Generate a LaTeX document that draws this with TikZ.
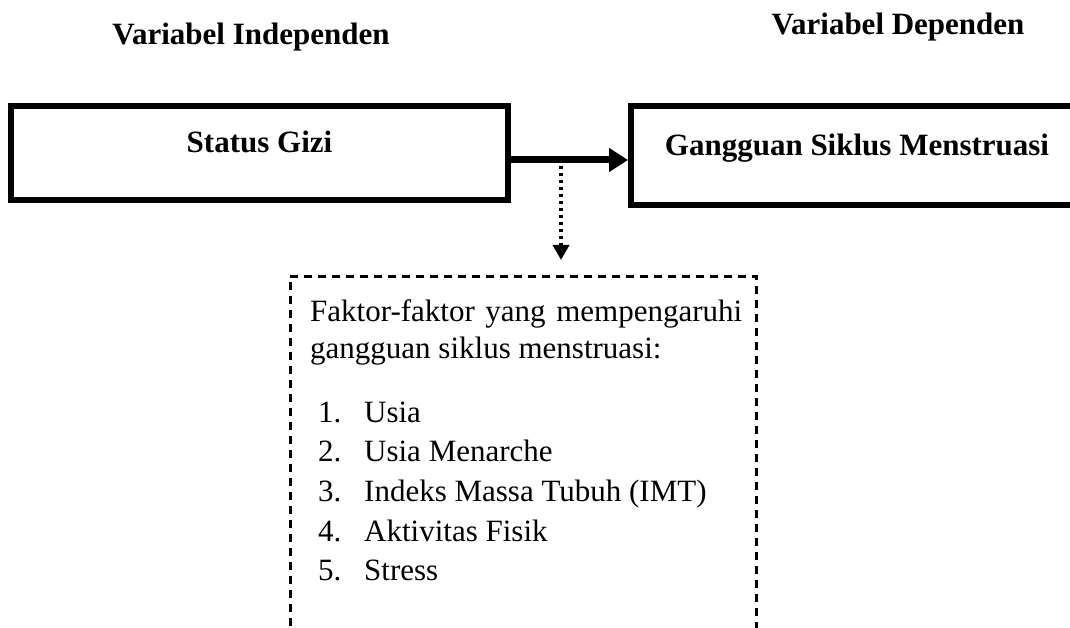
\documentclass[tikz,border=0pt]{standalone}
\usepackage{fontspec}
\setmainfont{Liberation Serif}
\usetikzlibrary{arrows.meta}

\begin{document}
\begin{tikzpicture}[x=1pt,y=-1pt]
\tikzstyle{every node}+=[inner sep=0pt, font=\fontsize{31}{37}\selectfont]
\tikzstyle{varbox}=[draw=black, line width=6pt, text height=12pt, text depth=12pt, font=\fontsize{31}{37}\selectfont\bfseries]
\tikzstyle{title}=[anchor=base, font=\fontsize{31}{37}\selectfont\bfseries]
\tikzstyle{item}=[anchor=base west]
\clip (0,0) rectangle (1070,628);
%titles
\node[title] (indep) at (251,45) {Variabel Independen};
\node[title] (dep) at (898,35) {Variabel Dependen};
%variable boxes
\node[varbox, minimum width=497pt, minimum height=94pt] (gizi) at (259.5,153) {Status Gizi};
\node[varbox, minimum width=452pt, minimum height=99pt] (siklus) at (857,155.5) {Gangguan Siklus Menstruasi};
\draw[line width=7pt, -{Triangle[length=19pt,width=23pt]}] ([yshift=-7pt]gizi.east) -- ([yshift=-4.5pt]siklus.west);
%factor box
\node[draw=black, line width=2.7pt, dash pattern=on 8pt off 6pt, minimum width=466pt, minimum height=420pt, anchor=north west] (factor) at (289,275) {};
\coordinate (split) at (561,166);
\draw[line width=3.5pt, dash pattern=on 3.5pt off 3.5pt, shorten >=15pt, -{Triangle[length=15pt,width=16pt]}] (split) -- (split |- factor.north);

\node[item] (intro1) at (310,321) {\makebox[432pt][s]{Faktor-faktor yang mempengaruhi}};
\node[item] (intro2) at (310,358.5) {gangguan siklus menstruasi:};
\node[item] (f1) at (318,422) {\makebox[46pt][l]{1.}Usia};
\node[item] (f2) at (318,461.7) {\makebox[46pt][l]{2.}Usia Menarche};
\node[item] (f3) at (318,501.4) {\makebox[46pt][l]{3.}Indeks Massa Tubuh (IMT)};
\node[item] (f4) at (318,541.1) {\makebox[46pt][l]{4.}Aktivitas Fisik};
\node[item] (f5) at (318,580.8) {\makebox[46pt][l]{5.}Stress};
\end{tikzpicture}
\end{document}
